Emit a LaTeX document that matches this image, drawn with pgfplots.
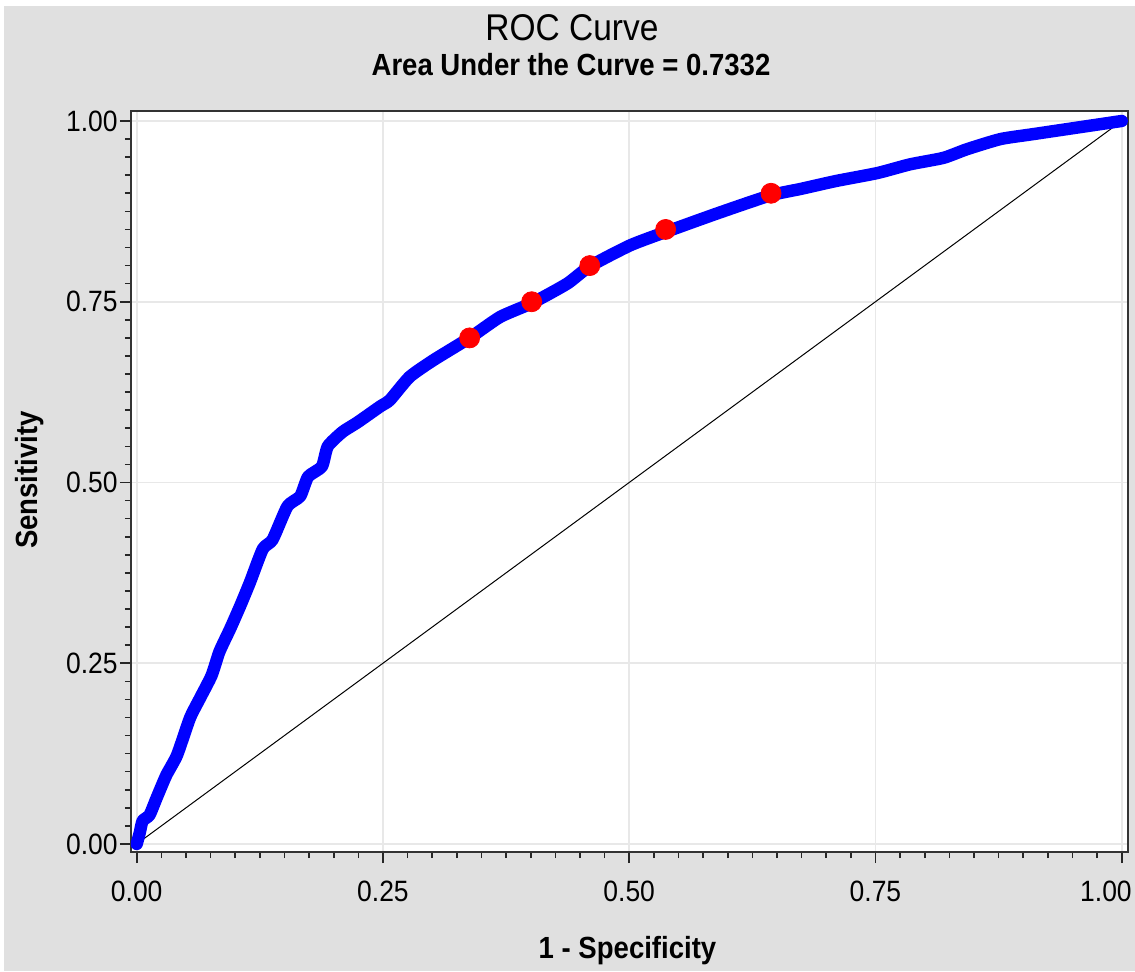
\documentclass[border=0pt]{standalone}
\usepackage{pgfplots}
\pgfplotsset{compat=1.18}
\usepackage{fontspec}
\setmainfont[FakeStretch=0.9]{Liberation Sans}
\definecolor{bggray}{HTML}{E0E0E0}
\definecolor{rocblue}{HTML}{0000FF}
\definecolor{dotred}{HTML}{FF0000}
\definecolor{gridgray}{HTML}{E8E8E8}

\begin{document}
\begin{tikzpicture}
% canvas: 1 px of the reference = 0.5pt, axis corner at px (131,853)
\useasboundingbox (-65.5pt,-59.5pt) rectangle (502pt,426pt);
\fill[white] (-65.5pt,-59.5pt) rectangle (502pt,426pt);
\fill[bggray] (-63.5pt,-59.5pt) rectangle (502pt,423pt);

\begin{axis}[
    at={(0pt,0pt)}, anchor=south west,
    scale only axis,
    width=498.5pt, height=370.75pt,
    xmin=-0.0058, xmax=1.0064,
    ymin=-0.0111, ymax=1.0145,
    axis background/.style={fill=white},
    axis line style={draw=black!80, line width=1pt},
    xtick={0,0.25,0.5,0.75,1}, ytick={0,0.25,0.5,0.75,1},
    xticklabels={0.00,0.25,0.50,0.75,{\makebox[0pt][r]{1.00\hspace*{-5pt}}}},
    yticklabels={0.00,0.25,0.50,0.75,1.00},
    minor tick num=9,
    xtick pos=bottom, ytick pos=left,
    tick align=outside,
    major tick length=5.5pt, minor tick length=3pt,
    tick style={draw=black!85, line width=0.8pt},
    xmajorgrids, ymajorgrids,
    major grid style={draw=gridgray, line width=0.8pt},
    tick label style={font=\fontsize{14.7}{16}\selectfont},
    xticklabel style={anchor=base, yshift=-19pt},
    yticklabel style={anchor=east, inner sep=0pt, xshift=-1pt},
]
\addplot[black, line width=0.5pt] coordinates {(0,0) (1,1)};
\addplot[rocblue, line width=6.2pt, line join=round, line cap=round, smooth, tension=0.35] coordinates {
(0,0) (0.003,0.015) (0.006,0.032) (0.013,0.040) (0.020,0.063)
(0.030,0.095) (0.041,0.123) (0.054,0.174) (0.064,0.201) (0.076,0.233)
(0.084,0.266) (0.095,0.298) (0.105,0.329) (0.115,0.362) (0.128,0.408)
(0.138,0.421) (0.153,0.467) (0.166,0.481) (0.174,0.508) (0.188,0.522)
(0.194,0.550) (0.209,0.570) (0.224,0.583) (0.247,0.605) (0.257,0.614)
(0.277,0.646) (0.301,0.669) (0.338,0.700) (0.369,0.729) (0.401,0.748)
(0.437,0.775) (0.460,0.799) (0.501,0.828) (0.538,0.847) (0.589,0.872)
(0.643,0.897) (0.674,0.906) (0.710,0.917) (0.752,0.928) (0.785,0.940)
(0.819,0.949) (0.843,0.961) (0.877,0.975) (0.911,0.982) (1.000,1.000)
};
\addplot[only marks, mark=*, mark size=5pt, draw=dotred, fill=dotred] coordinates {
(0.338,0.700) (0.401,0.750) (0.460,0.800) (0.537,0.850) (0.644,0.900)
};
\end{axis}

\node[anchor=base, font=\fontsize{18.6}{20}\selectfont] at (220.5pt,405.65pt) {ROC Curve};
\node[anchor=base, font=\fontsize{15.3}{17}\selectfont\bfseries] at (220pt,388.15pt) {Area Under the Curve = 0.7332};
\node[anchor=base, font=\fontsize{15.3}{17}\selectfont\bfseries] at (248.25pt,-53.15pt) {1 - Specificity};
\node[anchor=base, rotate=90, font=\fontsize{15.3}{17}\selectfont\bfseries] at (-46.5pt,186pt) {Sensitivity};
\end{tikzpicture}
\end{document}
